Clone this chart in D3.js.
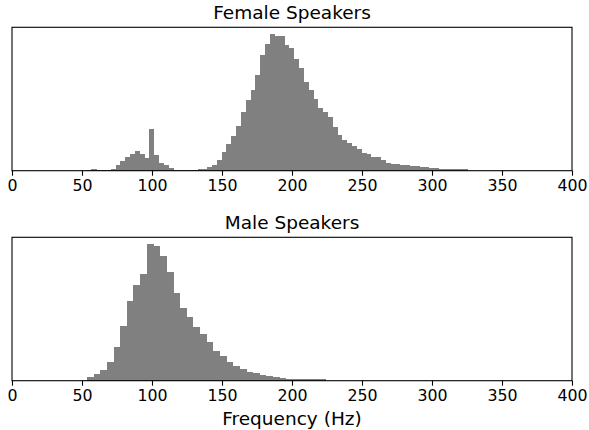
<!DOCTYPE html>
<html lang="en">
<head>
    <meta charset="UTF-8">
    <title>Speaker Pitch Histograms</title>
    <script src="https://d3js.org/d3.v7.min.js"></script>
    <style>
        body { margin: 0; background: #fff; }
        text { font-family: "DejaVu Sans", sans-serif; fill: #000; }
        .tick-label { font-size: 15.8px; }
        .title { font-size: 18.5px; }
        .xlabel { font-size: 18.5px; }
        .bar { fill: #808080; shape-rendering: crispEdges; }
    </style>
</head>
<body>
<div id="fig"></div>
<script>
    // tick labels on the shared frequency axis (Hz)
    let xTicks = [0, 50, 100, 150, 200, 250, 300, 350, 400];

    // female histogram: first bin edge and bin width (Hz), relative counts
    let femaleBinStart = 53.33;
    let femaleBinWidth = 3.443;
    let femaleCounts = [
        0.6, 1.3, 0.6, 0.6, 0.6, 1.3, 4.2, 7.2, 10, 12.4,
        14.6, 12, 9.5, 30.7, 11.7, 6, 4.2, 1.9, 0.7, 0.6,
        0.6, 0.7, 0.8, 1.3, 1.3, 2.6, 4.2, 7.9, 13.4, 19.3,
        25.7, 32.9, 43.2, 51.8, 59, 70, 84.8, 93, 100, 98.8,
        98.8, 92, 89.5, 82, 75, 65, 59, 52.5, 46, 42.7,
        39, 31.8, 26, 22.8, 20.2, 18.4, 16.2, 13.3, 12.4, 9.8,
        9.8, 7.8, 5.9, 5.0, 4.8, 4.2, 4.0, 3.4, 3.2, 2.7,
        2.6, 2.0, 1.9, 1.4, 1.2, 1.0, 1.0, 0.9, 0.9
    ];

    // male histogram
    let maleBinStart = 53.57;
    let maleBinWidth = 4.74;
    let maleCounts = [
        2.8, 5.0, 7.8, 13.7, 24.6, 40.1, 58.3, 70, 78, 100,
        98.5, 91.2, 79.6, 64, 53.3, 46.7, 39.4, 34.2, 28.3, 21.7,
        17.8, 13.7, 10.7, 8.5, 6.5, 5.4, 4.2, 3.2, 2.4, 1.7,
        1.3, 1.2, 1.0, 1.0, 0.9, 0.9
    ];

    let W = 589, H = 430;
    let left = 12, right = 572;
    let panelH = 143.4;

    let svg = d3.select("#fig").append("svg")
        .attr("width", W)
        .attr("height", H);

    let x = d3.scaleLinear().domain([0, 400]).range([left, right]);

    function histogram(top, start, width, counts, title) {
        let bottom = top + panelH;
        let y = d3.scaleLinear()
            .domain([0, d3.max(counts) * 1.05])
            .range([bottom, top]);
        let g = svg.append("g");

        g.selectAll(".bar")
            .data(counts)
            .enter()
            .append("rect")
            .attr("class", "bar")
            .attr("x", (d, i) => x(start + i * width))
            .attr("width", (d, i) => x(start + (i + 1) * width) - x(start + i * width) + 0.3)
            .attr("y", d => y(d))
            .attr("height", d => bottom - y(d));

        // frame
        g.append("rect")
            .attr("x", left).attr("y", top)
            .attr("width", right - left).attr("height", panelH)
            .attr("fill", "none")
            .attr("stroke", "#000")
            .attr("stroke-width", 1.1);

        let xAxis = d3.axisBottom(x)
            .tickValues(xTicks)
            .tickSize(5)
            .tickPadding(4)
            .tickFormat(d3.format("d"));
        let ax = g.append("g")
            .attr("transform", `translate(0,${bottom})`)
            .call(xAxis);
        ax.select(".domain").remove();
        ax.selectAll(".tick line").attr("stroke", "#000").attr("stroke-width", 1.1);
        ax.selectAll(".tick text")
            .attr("class", "tick-label")
            .attr("font-size", null)
            .attr("font-family", null)
            .attr("fill", "#000");

        g.append("text")
            .attr("class", "title")
            .attr("x", (left + right) / 2)
            .attr("y", top - 8.5)
            .attr("text-anchor", "middle")
            .text(title);
        return bottom;
    }

    histogram(27.3, femaleBinStart, femaleBinWidth, femaleCounts, "Female Speakers");
    histogram(237.3, maleBinStart, maleBinWidth, maleCounts, "Male Speakers");

    svg.append("text")
        .attr("class", "xlabel")
        .attr("x", (left + right) / 2)
        .attr("y", 425)
        .attr("text-anchor", "middle")
        .text("Frequency (Hz)");
</script>
</body>
</html>
